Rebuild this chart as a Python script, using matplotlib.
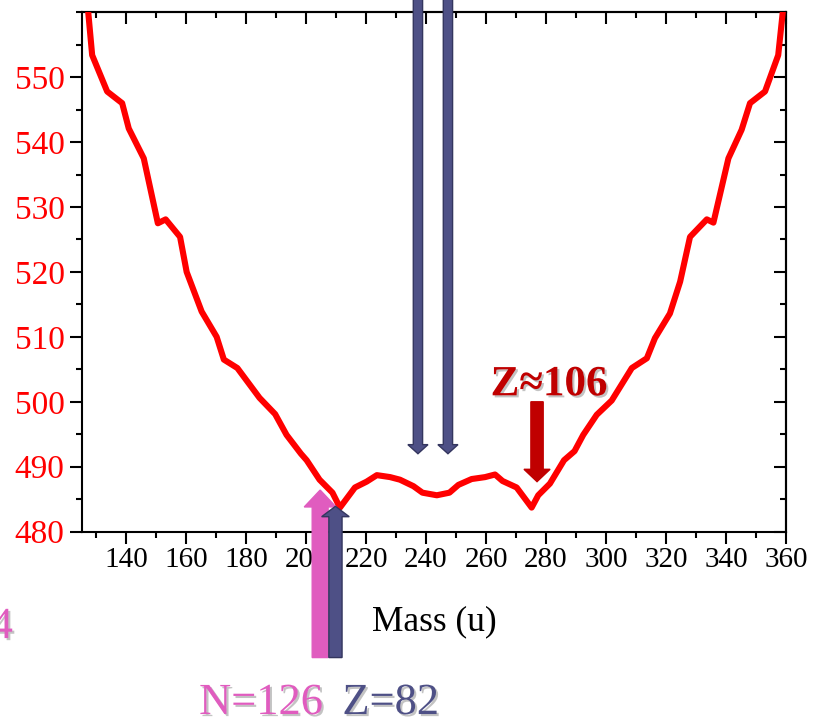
import matplotlib
matplotlib.use('Agg')
import matplotlib.pyplot as plt
from matplotlib.patches import FancyArrow
import matplotlib.patheffects as pe
from matplotlib.ticker import MultipleLocator

# ---- data ----
mass = [126.8, 128.7, 133.7, 138.7, 140.9, 145.9, 150.6, 153.2, 158.0, 160.2,
        165.2, 170.2, 172.6, 177.1, 184.5, 189.7, 193.5, 198.3, 200.2, 204.5,
        208.8, 211.3, 216.3, 220.2, 223.6, 228.0, 231.3, 235.8, 238.8, 243.6,
        247.8, 250.8, 255.2, 259.7, 263.0, 265.5, 270.2, 275.2, 277.4, 281.3,
        286.0, 289.5, 292.4, 296.9, 301.9, 308.6, 313.6, 316.3, 321.3, 324.7,
        328.0, 333.6, 335.8, 340.8, 345.2, 348.0, 353.0, 357.4, 359.6]
energy = [563.0, 553.4, 547.8, 546.0, 542.1, 537.5, 527.5, 528.1, 525.4, 520.0,
          513.9, 510.0, 506.5, 505.2, 500.6, 498.1, 494.9, 492.0, 491.0, 488.0,
          486.0, 483.7, 486.8, 487.7, 488.7, 488.4, 488.0, 487.0, 486.0, 485.6,
          486.0, 487.2, 488.1, 488.4, 488.8, 487.8, 486.8, 483.7, 485.6, 487.4,
          491.0, 492.4, 494.9, 498.0, 500.2, 505.2, 506.7, 509.8, 513.6, 518.5,
          525.4, 528.1, 527.6, 537.5, 541.9, 546.0, 547.8, 553.4, 563.0]

x_ticks = [140, 160, 180, 200, 220, 240, 260, 280, 300, 320, 340, 360]
y_ticks = [480, 490, 500, 510, 520, 530, 540, 550]

# annotation labels
label_z106 = "Z\u2248106"
label_n126 = "N=126"
label_z82 = "Z=82"
label_n184 = "N=184"
x_label = "Mass (u)"

RED = '#ff0000'
NAVY = '#4e5086'
NAVY_EDGE = '#34365f'
PINK = '#e05cbf'
DARKRED = '#c00000'
SERIF = ['Liberation Serif', 'DejaVu Serif']

fig = plt.figure(figsize=(8.18, 7.23), dpi=100)
ax = fig.add_axes([0.1002, 0.2647, 0.8607, 0.7183])

ax.plot(mass, energy, color=RED, lw=4.4, zorder=3)
ax.set_xlim(125.3, 360)
ax.set_ylim(480, 560)

ax.set_xticks(x_ticks)
ax.set_yticks(y_ticks)
ax.xaxis.set_minor_locator(MultipleLocator(10))
ax.yaxis.set_minor_locator(MultipleLocator(5))
ax.tick_params(which='major', direction='out', length=8.4, width=1.5, pad=3)
ax.tick_params(which='minor', direction='out', length=4.2, width=1.5)
ax.tick_params(axis='x', labelsize=21, labelcolor='black')
ax.tick_params(axis='y', labelsize=24, labelcolor=RED, pad=4)
for lab in ax.get_xticklabels() + ax.get_yticklabels():
    lab.set_family(SERIF)
for s in ax.spines.values():
    s.set_linewidth(1.5)

# mirrored inward ticks on top and right
top = ax.secondary_xaxis('top')
top.set_xticks(x_ticks)
top.xaxis.set_minor_locator(MultipleLocator(10))
top.tick_params(which='major', direction='in', length=8.4, width=1.5, labeltop=False)
top.tick_params(which='minor', direction='in', length=4.2, width=1.5)
top.spines['top'].set_linewidth(1.5)
right = ax.secondary_yaxis('right')
right.set_yticks(y_ticks)
right.yaxis.set_minor_locator(MultipleLocator(5))
right.tick_params(which='major', direction='in', length=8.4, width=1.5, labelright=False)
right.tick_params(which='minor', direction='in', length=4.2, width=1.5)
right.spines['right'].set_linewidth(1.5)

ax.set_xlabel(x_label, fontsize=25.5, family=SERIF, labelpad=23)

# ---- arrows ----
def arrow(x, y0, y1, w, hw, hl, fc, ec, z):
    a = FancyArrow(x, y0, 0, y1 - y0, width=w, head_width=hw, head_length=hl,
                   length_includes_head=True, facecolor=fc, edgecolor=ec,
                   lw=1.0, clip_on=False, zorder=z, transform=ax.transData)
    ax.add_patch(a)

arrow(237.3, 566.0, 492.0, 3.1, 6.7, 1.4, NAVY, NAVY_EDGE, 6)
arrow(247.3, 566.0, 492.0, 3.1, 6.7, 1.4, NAVY, NAVY_EDGE, 6)
arrow(204.7, 460.6, 486.4, 5.3, 10.6, 2.6, PINK, PINK, 5)
arrow(209.8, 460.6, 483.9, 4.4, 9.2, 1.6, NAVY, NAVY_EDGE, 6)
arrow(277.0, 500.0, 487.7, 4.1, 8.7, 1.9, DARKRED, DARKRED, 6)

shadow = [pe.withSimplePatchShadow(offset=(1.5, -1.5), shadow_rgbFace='#888888', alpha=0.5)]

ax.text(281.0, 501.0, label_z106, color=DARKRED, fontsize=31, fontweight='bold',
        family=SERIF, ha='center', va='baseline', path_effects=shadow, zorder=7)
ax.text(185.0, 451.9, label_n126, color=PINK, fontsize=32, family=SERIF,
        ha='center', va='baseline', path_effects=shadow, zorder=7)
ax.text(228.3, 451.9, label_z82, color=NAVY, fontsize=32, family=SERIF,
        ha='center', va='baseline', path_effects=shadow, zorder=7)
ax.text(102.3, 463.6, label_n184, color=PINK, fontsize=32, family=SERIF,
        ha='right', va='baseline', path_effects=shadow, zorder=7)

fig.savefig('out.png', dpi=100)
